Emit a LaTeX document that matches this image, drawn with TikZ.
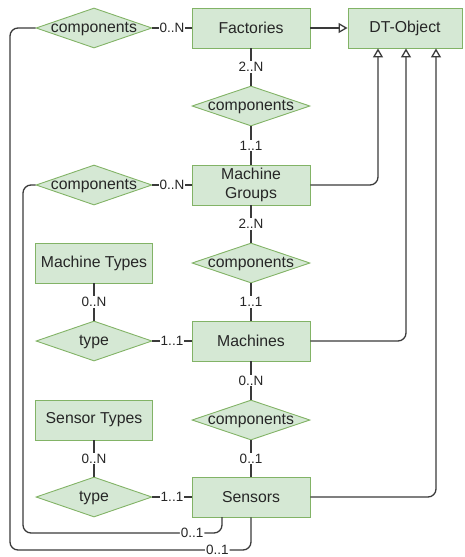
\documentclass[tikz,border=0pt]{standalone}
\usepackage{fontspec}
\setmainfont{Liberation Sans}
\usetikzlibrary{shapes.geometric,arrows.meta}
\definecolor{boxfill}{HTML}{D5E8D4}
\definecolor{boxline}{HTML}{82B366}
\definecolor{wirecol}{HTML}{3A3A3A}
\definecolor{txt}{HTML}{262626}
\newcommand{\dtxt}[1]{\raisebox{-0.3em}[0pt][0pt]{#1}}
\begin{document}
\begin{tikzpicture}[x=1pt,y=-1pt,
 ent/.style={draw=boxline, fill=boxfill, line width=0.9pt, minimum width=118pt, minimum height=40pt, inner sep=0pt, font=\fontsize{15.8}{19.5}\selectfont, text=txt, align=center},
 rel/.style={diamond, shape aspect=3, draw=boxline, fill=boxfill, line width=0.9pt, minimum width=116pt, minimum height=40pt, inner sep=0pt, font=\fontsize{15.8}{19.5}\selectfont, text=txt},
 wire/.style={draw=wirecol, line width=1.3pt},
 card/.style={fill=white, inner sep=1pt, font=\fontsize{13.5}{16}\selectfont, text=txt},
 gen/.style={wire, -{Triangle[open, length=9pt, width=10pt]}, rounded corners=8pt},
 loopw/.style={wire, rounded corners=8pt}]
\useasboundingbox (0,0) rectangle (464,557);

% entities
\node[ent] (fact) at (251,28) {Factories};
\node[ent, minimum width=114pt] (dto) at (405,28) {DT-Object};
\node[ent] (mg) at (251,185) {Machine\\Groups};
\node[ent] (mach) at (251,341) {Machines};
\node[ent] (sens) at (251,497) {Sensors};
\node[ent, minimum width=117pt] (mt) at (94,263) {Machine Types};
\node[ent, minimum width=117pt] (st) at (94,420) {Sensor Types};

% relations
\node[rel] (c1) at (94,28) {\dtxt{components}};
\node[rel, minimum width=118pt] (c2) at (251,106) {\dtxt{components}};
\node[rel] (c3) at (94,185) {\dtxt{components}};
\node[rel, minimum width=118pt] (c4) at (251,263) {\dtxt{components}};
\node[rel, minimum width=118pt] (c5) at (251,420) {\dtxt{components}};
\node[rel] (t1) at (94,341) {\dtxt{type}};
\node[rel] (t2) at (94,497) {\dtxt{type}};

% waypoints
\coordinate (o1) at (10,28);
\coordinate (o2) at (10,550);
\coordinate (o3) at (251,550);
\coordinate (i1) at (23,185);
\coordinate (i2) at (23,533);
\coordinate (i3) at (222,533);
\coordinate (i4) at (222,517);

% middle column
\draw[wire] (fact.south) -- node[card]{2..N} (c2.north);
\draw[wire] (c2.south) -- node[card]{1..1} (mg.north);
\draw[wire] (mg.south) -- node[card]{2..N} (c4.north);
\draw[wire] (c4.south) -- node[card]{1..1} (mach.north);
\draw[wire] (mach.south) -- node[card]{0..N} (c5.north);
\draw[wire] (c5.south) -- node[card]{0..1} (sens.north);

% left column
\draw[wire] (c1.east) -- node[card]{0..N} (fact.west);
\draw[wire] (c3.east) -- node[card]{0..N} (mg.west);
\draw[wire] (mt.south) -- node[card]{0..N} (t1.north);
\draw[wire] (t1.east) -- node[card]{1..1} (mach.west);
\draw[wire] (st.south) -- node[card]{0..N} (t2.north);
\draw[wire] (t2.east) -- node[card]{1..1} (sens.west);

% recursive loops
\draw[loopw] (c1.west) -- (o1) -- (o2) -- node[card, pos=0.86]{0..1} (o3) -- (sens.south);
\draw[loopw] (c3.west) -- (i1) -- (i2) -- node[card, pos=0.85]{0..1} (i3) -- (i4);

% generalisation
\draw[gen] (fact.east) -- (dto.west);
\draw[gen] (mg.east) -| ([xshift=-27pt]dto.south);
\draw[gen] (mach.east) -| ([xshift=1pt]dto.south);
\draw[gen] (sens.east) -| ([xshift=31pt]dto.south);
\end{tikzpicture}
\end{document}
